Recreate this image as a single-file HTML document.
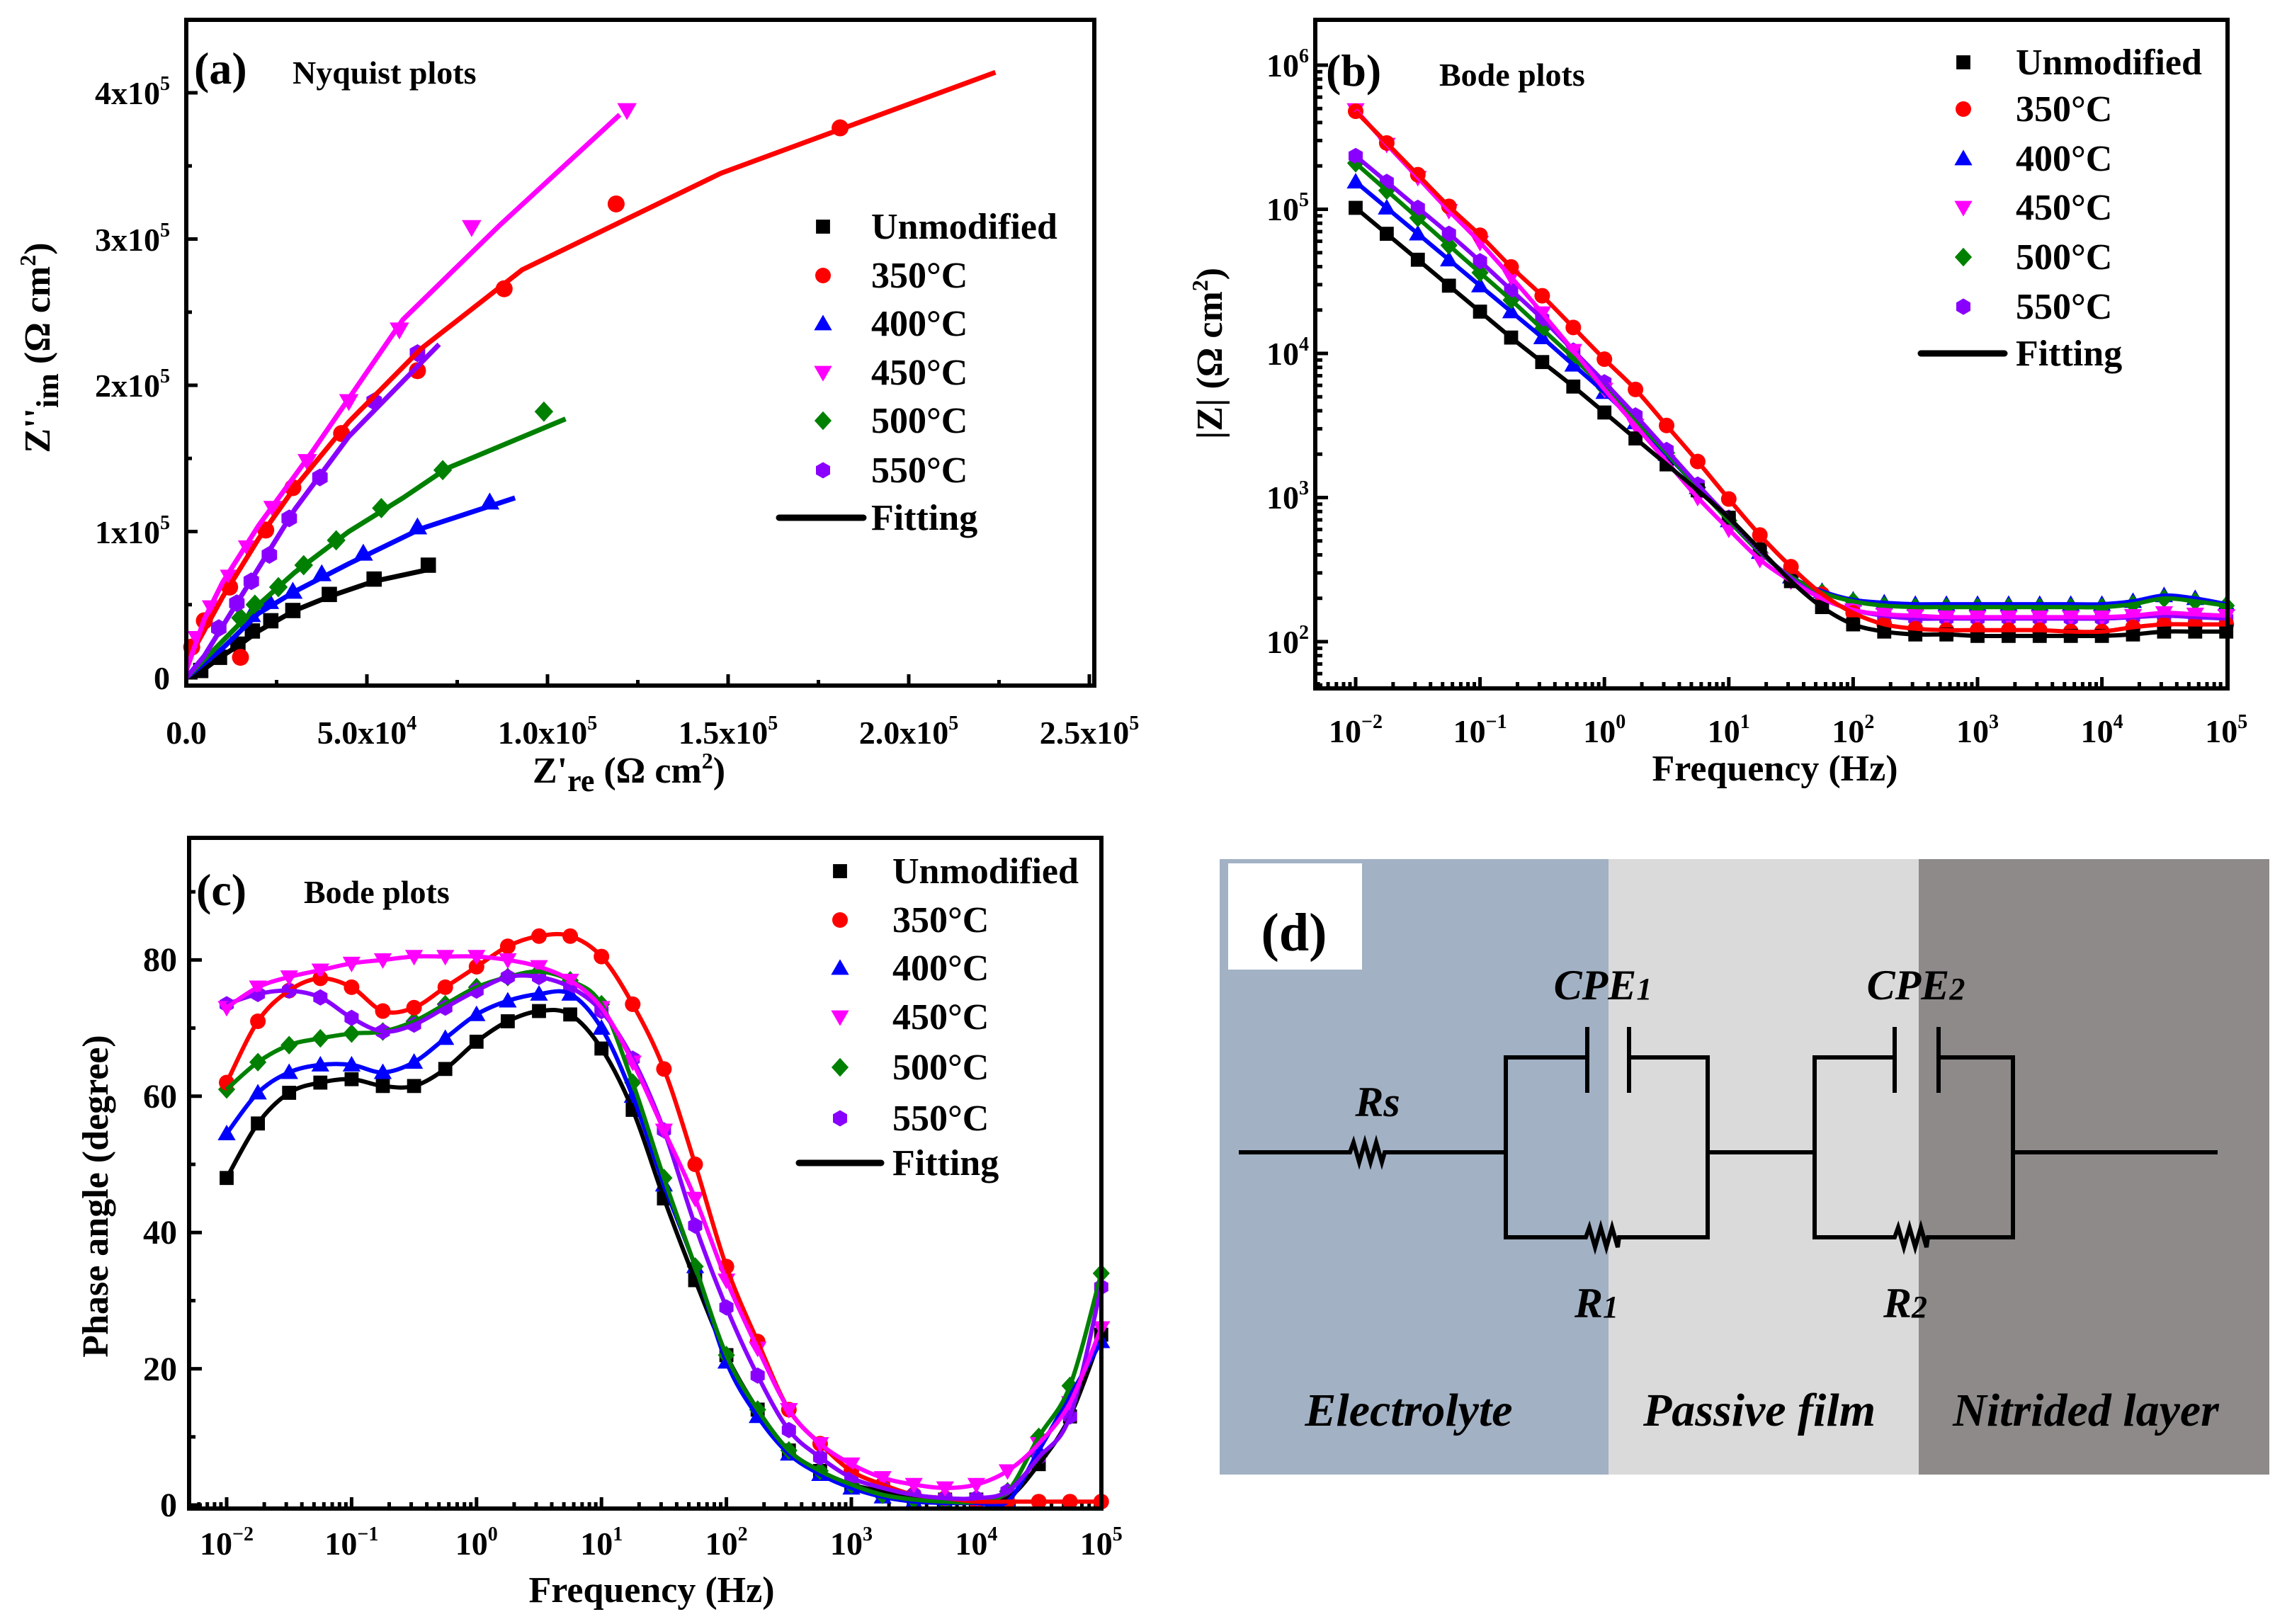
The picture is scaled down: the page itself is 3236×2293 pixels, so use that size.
<!DOCTYPE html>
<html><head><meta charset="utf-8"><title>EIS figure</title>
<style>
html,body{margin:0;padding:0;background:#fff;}
svg{display:block;}
text{font-family:"Liberation Serif","DejaVu Serif",serif;font-weight:bold;fill:#000;}
</style></head>
<body>
<svg id="fig" xmlns="http://www.w3.org/2000/svg" width="3236" height="2293" viewBox="0 0 3236 2293">
<rect x="0" y="0" width="3236" height="2293" fill="#fff"/>

<!-- Panel A static -->
<g>
<g id="plotA"></g>
<rect x="263" y="28" width="1282" height="940" fill="none" stroke="#000" stroke-width="6"/>
<text x="274" y="118" font-size="64">(a)</text>
<text x="413" y="118" font-size="46">Nyquist plots</text>
<g font-size="46" text-anchor="end">
<text x="240" y="973">0</text>
<text x="240" y="767">1x10<tspan dy="-20" font-size="28">5</tspan></text>
<text x="240" y="560">2x10<tspan dy="-20" font-size="28">5</tspan></text>
<text x="240" y="354">3x10<tspan dy="-20" font-size="28">5</tspan></text>
<text x="240" y="147">4x10<tspan dy="-20" font-size="28">5</tspan></text>
</g>
<g font-size="46" text-anchor="middle">
<text x="263" y="1050">0.0</text>
<text x="518" y="1050">5.0x10<tspan dy="-20" font-size="28">4</tspan></text>
<text x="773" y="1050">1.0x10<tspan dy="-20" font-size="28">5</tspan></text>
<text x="1028" y="1050">1.5x10<tspan dy="-20" font-size="28">5</tspan></text>
<text x="1283" y="1050">2.0x10<tspan dy="-20" font-size="28">5</tspan></text>
<text x="1538" y="1050">2.5x10<tspan dy="-20" font-size="28">5</tspan></text>
</g>
<text x="888" y="1105" font-size="52" text-anchor="middle">Z'<tspan dy="12" font-size="44">re</tspan><tspan dy="-12"> (Ω cm</tspan><tspan dy="-20" font-size="32">2</tspan><tspan dy="20">)</tspan></text>
<text transform="translate(70,491) rotate(-90)" font-size="52" text-anchor="middle">Z''<tspan dy="12" font-size="44">im</tspan><tspan dy="-12"> (Ω cm</tspan><tspan dy="-20" font-size="32">2</tspan><tspan dy="20">)</tspan></text>
<g font-size="52">
<text x="1230" y="337">Unmodified</text>
<text x="1230" y="406">350°C</text>
<text x="1230" y="474">400°C</text>
<text x="1230" y="543">450°C</text>
<text x="1230" y="611">500°C</text>
<text x="1230" y="681">550°C</text>
<text x="1230" y="748">Fitting</text>
</g>
<g id="legA"></g>
</g>

<!-- Panel B static -->
<g>
<g id="plotB"></g>
<rect x="1857" y="28" width="1288" height="944" fill="none" stroke="#000" stroke-width="6"/>
<text x="1872" y="121" font-size="64">(b)</text>
<text x="2032" y="121" font-size="46">Bode plots</text>
<g font-size="46" text-anchor="end">
<text x="1848" y="922">10<tspan dy="-20" font-size="28">2</tspan></text>
<text x="1848" y="718">10<tspan dy="-20" font-size="28">3</tspan></text>
<text x="1848" y="515">10<tspan dy="-20" font-size="28">4</tspan></text>
<text x="1848" y="311">10<tspan dy="-20" font-size="28">5</tspan></text>
<text x="1848" y="108">10<tspan dy="-20" font-size="28">6</tspan></text>
</g>
<g id="xlabB" font-size="46" text-anchor="middle"></g>
<text x="2506" y="1102" font-size="52" text-anchor="middle">Frequency (Hz)</text>
<text transform="translate(1725,499) rotate(-90)" font-size="52" text-anchor="middle">|Z|  (Ω cm<tspan dy="-20" font-size="32">2</tspan><tspan dy="20">)</tspan></text>
<g font-size="52">
<text x="2846" y="105">Unmodified</text>
<text x="2846" y="171">350°C</text>
<text x="2846" y="241">400°C</text>
<text x="2846" y="310">450°C</text>
<text x="2846" y="380">500°C</text>
<text x="2846" y="450">550°C</text>
<text x="2846" y="516">Fitting</text>
</g>
<g id="legB"></g>
</g>

<!-- Panel C static -->
<g>
<g id="plotC"></g>
<rect x="267" y="1183" width="1288" height="947" fill="none" stroke="#000" stroke-width="6"/>
<text x="277" y="1278" font-size="64">(c)</text>
<text x="429" y="1275" font-size="46">Bode plots</text>
<g font-size="48" text-anchor="end">
<text x="250" y="2141">0</text>
<text x="250" y="1949">20</text>
<text x="250" y="1756">40</text>
<text x="250" y="1564">60</text>
<text x="250" y="1371">80</text>
</g>
<g id="xlabC" font-size="46" text-anchor="middle"></g>
<text x="920" y="2262" font-size="52" text-anchor="middle">Frequency (Hz)</text>
<text transform="translate(152,1689) rotate(-90)" font-size="52" text-anchor="middle">Phase angle (degree)</text>
<g font-size="52">
<text x="1260" y="1247">Unmodified</text>
<text x="1260" y="1316">350°C</text>
<text x="1260" y="1384">400°C</text>
<text x="1260" y="1453">450°C</text>
<text x="1260" y="1524">500°C</text>
<text x="1260" y="1596">550°C</text>
<text x="1260" y="1659">Fitting</text>
</g>
<g id="legC"></g>
</g>

<!-- Panel D -->
<g>
<rect x="1722" y="1213" width="549" height="869" fill="#a2b1c4"/>
<rect x="2271" y="1213" width="438" height="869" fill="#dadada"/>
<rect x="2709" y="1213" width="495" height="869" fill="#8e8a8a"/>
<rect x="1734" y="1219" width="189" height="150" fill="#fff"/>
<text x="1827" y="1342" font-size="76" text-anchor="middle">(d)</text>
<g fill="none" stroke="#000" stroke-width="6">
<path d="M1749 1627 H1906 l5 -14 l8 28 l8 -28 l8 28 l8 -28 l8 28 l4 -14 H2126"/>
<path d="M2241 1493 H2126 V1747 H2239 l5 -14 l8 28 l8 -28 l8 28 l8 -28 l8 28 l2 -14 H2411 V1493 H2300"/>
<path d="M2241 1450 V1543 M2300 1450 V1543"/>
<path d="M2411 1627 H2562"/>
<path d="M2675 1493 H2562 V1747 H2675 l5 -14 l8 28 l8 -28 l8 28 l8 -28 l8 28 l2 -14 H2842 V1493 H2737"/>
<path d="M2675 1450 V1543 M2737 1450 V1543"/>
<path d="M2842 1627 H3131"/>
</g>
<g font-size="60" font-style="italic" text-anchor="middle">
<text x="2263" y="1411">CPE<tspan font-size="44">1</tspan></text>
<text x="2705" y="1411">CPE<tspan font-size="44">2</tspan></text>
<text x="1945" y="1576">Rs</text>
<text x="2254" y="1860">R<tspan font-size="44">1</tspan></text>
<text x="2690" y="1860">R<tspan font-size="44">2</tspan></text>
</g>
<g font-size="66" font-style="italic" text-anchor="middle">
<text x="1989" y="2013">Electrolyte</text>
<text x="2484" y="2013">Passive film</text>
<text x="2945" y="2013">Nitrided layer</text>
</g>
</g>
</svg>

<script>
// ===== Series meta =====
const seriesNames = ["Unmodified","350°C","400°C","450°C","500°C","550°C"];
const seriesColors = ["#000000","#ff0000","#0000ff","#ff00ff","#008000","#8a00ff"];
const seriesShapes = ["square","circle","tri-up","tri-down","diamond","hexagon"];

// ===== Panel (a) Nyquist data (units of 1e4 ohm cm2) =====
const nyqUnmodX = [0.4,0.92,1.43,1.83,2.34,2.95,3.96,5.2,6.7];
const nyqUnmodY = [0.5,1.4,2.3,3.2,3.9,4.6,5.7,6.75,7.7];
const nyqUnmodFitX = [0,0.5,1,1.5,2,3,4,5.2,6.9];
const nyqUnmodFitY = [0,0.6,1.5,2.3,3.2,4.6,5.6,6.6,7.5];
const nyq350X = [0.15,0.5,1.5,1.2,2.2,2.95,4.3,6.4,8.8,11.9,18.1];
const nyq350Y = [2.1,3.9,1.4,6.2,10.1,13.0,16.7,21.0,26.6,32.4,37.6];
const nyq350FitX = [0,1,2,3,4.5,6.5,9.3,14.8,22.4];
const nyq350FitY = [1,5.5,9.5,13,17.5,22.5,27.9,34.5,41.4];
const nyq400X = [1.8,2.3,2.95,3.75,4.9,6.4,8.4];
const nyq400Y = [4.3,5.2,5.9,7.1,8.5,10.3,12.0];
const nyq400FitX = [0,1,2,3,4.5,6.5,9.1];
const nyq400FitY = [0,2,4.4,5.9,7.8,10.2,12.3];
const nyq450X = [0.3,0.7,1.2,1.7,2.4,3.35,4.5,5.9,7.9,12.2];
const nyq450Y = [2.7,4.8,6.9,8.9,11.6,14.8,18.9,23.8,30.8,38.8];
const nyq450FitX = [0,0.5,1,2,3.5,6,8.7,12.0];
const nyq450FitY = [0.5,4,6.5,10.4,15.5,24.5,31,38.5];
const nyq500X = [1.5,1.9,2.55,3.25,4.15,5.4,7.1,9.9];
const nyq500Y = [4.1,5.0,6.2,7.7,9.4,11.6,14.2,18.2];
const nyq500FitX = [0,1,2,3,4.5,6,7.2,10.5];
const nyq500FitY = [0,2.5,5.0,7.2,10,12.3,14.3,17.7];
const nyq550X = [0.9,1.4,1.8,2.3,2.85,3.7,5.2,6.4];
const nyq550Y = [3.4,5.1,6.6,8.4,10.9,13.7,18.9,22.2];
const nyq550FitX = [0,0.5,1,2,3,4.5,7];
const nyq550FitY = [0,1.5,3.5,7.5,11.5,16.5,22.8];

// ===== Panel (b)/(c) frequency categories (log10 Hz) =====
const freqLog = [-2,-1.75,-1.5,-1.25,-1,-0.75,-0.5,-0.25,0,0.25,0.5,0.75,1,1.25,1.5,1.75,2,2.25,2.5,2.75,3,3.25,3.5,3.75,4,4.25,4.5,4.75,5];

// log10 |Z|
const zUnmod = [5.01,4.83,4.65,4.47,4.29,4.11,3.94,3.77,3.59,3.41,3.23,3.05,2.86,2.64,2.42,2.24,2.12,2.07,2.05,2.05,2.04,2.04,2.04,2.04,2.04,2.05,2.07,2.07,2.07];
const z350 = [5.68,5.46,5.24,5.02,4.82,4.60,4.40,4.18,3.96,3.75,3.50,3.25,2.99,2.74,2.52,2.33,2.20,2.12,2.09,2.08,2.08,2.08,2.08,2.07,2.07,2.10,2.12,2.12,2.12];
const z400 = [5.19,5.01,4.83,4.65,4.47,4.29,4.11,3.92,3.73,3.52,3.30,3.07,2.84,2.62,2.45,2.35,2.29,2.27,2.26,2.26,2.26,2.26,2.26,2.26,2.26,2.28,2.32,2.30,2.26];
const z450 = [5.69,5.45,5.22,4.99,4.77,4.53,4.28,4.02,3.75,3.50,3.25,3.00,2.78,2.57,2.42,2.30,2.22,2.19,2.18,2.17,2.17,2.17,2.17,2.17,2.17,2.18,2.20,2.19,2.18];
const z500 = [5.32,5.13,4.94,4.75,4.56,4.37,4.17,3.97,3.76,3.54,3.31,3.07,2.84,2.62,2.45,2.34,2.28,2.25,2.24,2.24,2.24,2.24,2.24,2.24,2.24,2.26,2.30,2.28,2.25];
const z550 = [5.37,5.19,5.01,4.83,4.64,4.44,4.24,4.02,3.80,3.57,3.33,3.09,2.86,2.63,2.44,2.30,2.22,2.18,2.16,2.16,2.16,2.16,2.16,2.16,2.16,2.17,2.18,2.17,2.16];

// phase angle (degree)
const pUnmod = [48,56,60.5,62,62.5,61.5,61.5,64,68,71,72.5,72,67,58,45,33,22,14,8,5,3,2,1,0.8,0.8,1,6,13,25];
const p350 = [62,71,75.5,77.3,76,72.5,73,76,79,82,83.5,83.5,80.5,73.5,64,50,35,24,14,9,5,3,1.5,1,0.5,0.5,0.5,0.5,0.5];
const p400 = [54.5,60.5,63.5,64.6,64.6,63.5,65,68.5,72,74,75,75,70,60,47,35,21,13,7.5,4.5,2.5,1.2,0.5,0.3,0.3,0.5,8,16,24];
const p450 = [73,76,77.5,78.5,79.5,80,80.5,80.5,80.5,80,79,77,73,65,55,45,33,23,14,9,6,4,3,2.5,3,5,9,15,26];
const p500 = [61,65,67.5,68.5,69.2,69.5,71,73.5,76,77.5,78.3,77,73.5,62,48,35,22,14,8,5,3,1.5,0.8,0.5,0.5,2,10,17.5,34];
const p550 = [73.5,75,75.5,74.5,71.5,69.5,70.5,73,75.5,77.5,77.5,76,72.5,65.5,55,41,29,19,11,7,4,2.5,1.5,1,1,2,7,13,32];

// tick label arrays
const decadeTicks = [-2,-1,0,1,2,3,4,5];

// ===== helpers =====
const NS = "http://www.w3.org/2000/svg";
function mk(tag, attrs, parent){
  const e = document.createElementNS(NS, tag);
  for (const k in attrs) e.setAttribute(k, attrs[k]);
  parent.appendChild(e);
  return e;
}
// axis functions
const xA = v => 263 + v * 51;
const yA = v => 957 - v * 20.65;
const xB = lf => 1914 + (lf + 2) * 175.6;
const yB = lg => 906 - (lg - 2) * 203.5;
const xC = lf => 320 + (lf + 2) * 176.4;
const yC = p => 2125 - p * 9.62;

function marker(parent, shape, x, y, color, s){
  s = s || 11;
  let e;
  if (shape === "square") e = mk("rect", {x:x-s*0.9, y:y-s*0.9, width:s*1.8, height:s*1.8, fill:color}, parent);
  else if (shape === "circle") e = mk("circle", {cx:x, cy:y, r:s, fill:color}, parent);
  else if (shape === "tri-up") e = mk("polygon", {points:`${x},${y-s*1.15} ${x+s*1.15},${y+s*0.85} ${x-s*1.15},${y+s*0.85}`, fill:color}, parent);
  else if (shape === "tri-down") e = mk("polygon", {points:`${x},${y+s*1.15} ${x+s*1.15},${y-s*0.85} ${x-s*1.15},${y-s*0.85}`, fill:color}, parent);
  else if (shape === "diamond") e = mk("polygon", {points:`${x},${y-s*1.2} ${x+s*1.1},${y} ${x},${y+s*1.2} ${x-s*1.1},${y}`, fill:color}, parent);
  else {
    let pts = [];
    for (let i = 0; i < 6; i++){ const a = Math.PI/6 + i*Math.PI/3; pts.push((x+s*1.05*Math.cos(a)).toFixed(1)+","+(y+s*1.05*Math.sin(a)).toFixed(1)); }
    e = mk("polygon", {points:pts.join(" "), fill:color}, parent);
  }
  return e;
}
function smoothPath(pts){
  if (pts.length < 2) return "";
  let d = `M${pts[0][0].toFixed(1)},${pts[0][1].toFixed(1)}`;
  for (let i = 0; i < pts.length-1; i++){
    const p0 = pts[i-1] || pts[i], p1 = pts[i], p2 = pts[i+1], p3 = pts[i+2] || pts[i+1];
    const c1x = p1[0] + (p2[0]-p0[0])/6, c1y = p1[1] + (p2[1]-p0[1])/6;
    const c2x = p2[0] - (p3[0]-p1[0])/6, c2y = p2[1] - (p3[1]-p1[1])/6;
    d += ` C${c1x.toFixed(1)},${c1y.toFixed(1)} ${c2x.toFixed(1)},${c2y.toFixed(1)} ${p2[0].toFixed(1)},${p2[1].toFixed(1)}`;
  }
  return d;
}
function tick(parent, x1, y1, x2, y2){
  const t = mk("line", {x1:x1, y1:y1, x2:x2, y2:y2, stroke:"#000", "stroke-width":5}, parent);
  
  
}
function legend(parent, mx, rows, lineX1, lineX2){
  for (let i = 0; i < 6; i++){
    const m = marker(parent, seriesShapes[i], mx, rows[i], seriesColors[i], 11);
    
    
  }
  const l = mk("line", {x1:lineX1, y1:rows[6], x2:lineX2, y2:rows[6], stroke:"#000", "stroke-width":9, "stroke-linecap":"round"}, parent);
  
  
}

// ===== Panel A =====
(function(){
  const g = document.getElementById("plotA");
  for (let v = 0; v <= 25; v += 2.5){ const x = xA(v); tick(g, x, 968, x, v % 5 === 0 ? 952 : 960); }
  for (let v = 0; v <= 45; v += 5){ const y = yA(v); if (y < 30) continue; tick(g, 263, y, v % 10 === 0 ? 279 : 271, y); }
  const mx = [nyqUnmodX,nyq350X,nyq400X,nyq450X,nyq500X,nyq550X];
  const my = [nyqUnmodY,nyq350Y,nyq400Y,nyq450Y,nyq500Y,nyq550Y];
  const fx = [nyqUnmodFitX,nyq350FitX,nyq400FitX,nyq450FitX,nyq500FitX,nyq550FitX];
  const fy = [nyqUnmodFitY,nyq350FitY,nyq400FitY,nyq450FitY,nyq500FitY,nyq550FitY];
  for (let s = 0; s < 6; s++){
    for (let i = 0; i < mx[s].length; i++){
      const m = marker(g, seriesShapes[s], xA(mx[s][i]), yA(my[s][i]), seriesColors[s], 12);
      
      
    }
  }
  for (let s = 0; s < 6; s++){
    const pts = fx[s].map((v,i) => [xA(v), yA(fy[s][i])]);
    let d = "M" + pts.map(p => p[0].toFixed(1)+","+p[1].toFixed(1)).join(" L");
    const p = mk("path", {d:d, fill:"none", stroke:seriesColors[s], "stroke-width":7, "stroke-linejoin":"round"}, g);
    
    
  }
  legend(document.getElementById("legA"), 1162, [320,389,457,526,594,664,731], 1100, 1219);
})();

function logXTicks(g, xf, yBottom){
  for (let d = -3; d <= 5; d++){
    for (let k = 1; k <= 9; k++){
      const lf = d + Math.log10(k);
      const x = xf(lf);
      if (x < g.dataset.lo*1 || x > g.dataset.hi*1) continue;
      tick(g, x, yBottom, x, k === 1 ? yBottom-16 : yBottom-9);
    }
  }
}
function decadeLabels(id, xf, yBase){
  const g = document.getElementById(id);
  decadeTicks.forEach(d => {
    const t = mk("text", {x:xf(d), y:yBase}, g);
    
    
    t.textContent = "10";
    const s = mk("tspan", {dy:-20, "font-size":28}, t);
    s.textContent = d < 0 ? "−" + (-d) : String(d);
  });
}

// ===== Panel B =====
(function(){
  const g = document.getElementById("plotB");
  g.dataset.lo = 1860; g.dataset.hi = 3142;
  logXTicks(g, xB, 972);
  for (let d = 1; d <= 6; d++){
    for (let k = 1; k <= 9; k++){
      const y = yB(d + Math.log10(k));
      if (y < 32 || y > 968) continue;
      tick(g, 1857, y, k === 1 ? 1875 : 1867, y);
    }
  }
  const zs = [zUnmod,z350,z400,z450,z500,z550];
  const order = [2,4,5,3,1,0];
  order.forEach(s => {
    zs[s].forEach((v,i) => {
      const m = marker(g, seriesShapes[s], xB(freqLog[i]), yB(v), seriesColors[s], 11);
      
      
    });
  });
  order.forEach(s => {
    const p = mk("path", {d:smoothPath(zs[s].map((v,i)=>[xB(freqLog[i]), yB(v)])), fill:"none", stroke:seriesColors[s], "stroke-width":6}, g);
    
    
  });
  decadeLabels("xlabB", xB, 1048);
  legend(document.getElementById("legB"), 2772, [88,154,224,293,363,433,499], 2712, 2830);
})();

// ===== Panel C =====
(function(){
  const g = document.getElementById("plotC");
  g.dataset.lo = 270; g.dataset.hi = 1552;
  logXTicks(g, xC, 2130);
  for (let p = 0; p <= 90; p += 10){ const y = yC(p); tick(g, 267, y, p % 20 === 0 ? 285 : 276, y); }
  const ps = [pUnmod,p350,p400,p450,p500,p550];
  const order = [0,2,4,1,5,3];
  order.forEach(s => {
    ps[s].forEach((v,i) => {
      const m = marker(g, seriesShapes[s], xC(freqLog[i]), yC(v), seriesColors[s], 11);
      
      
    });
  });
  order.forEach(s => {
    const p = mk("path", {d:smoothPath(ps[s].map((v,i)=>[xC(freqLog[i]), yC(v)])), fill:"none", stroke:seriesColors[s], "stroke-width":6}, g);
    
    
  });
  decadeLabels("xlabC", xC, 2195);
  legend(document.getElementById("legC"), 1186, [1230,1299,1367,1436,1507,1579,1642], 1128, 1244);
})();
</script>
</body></html>
